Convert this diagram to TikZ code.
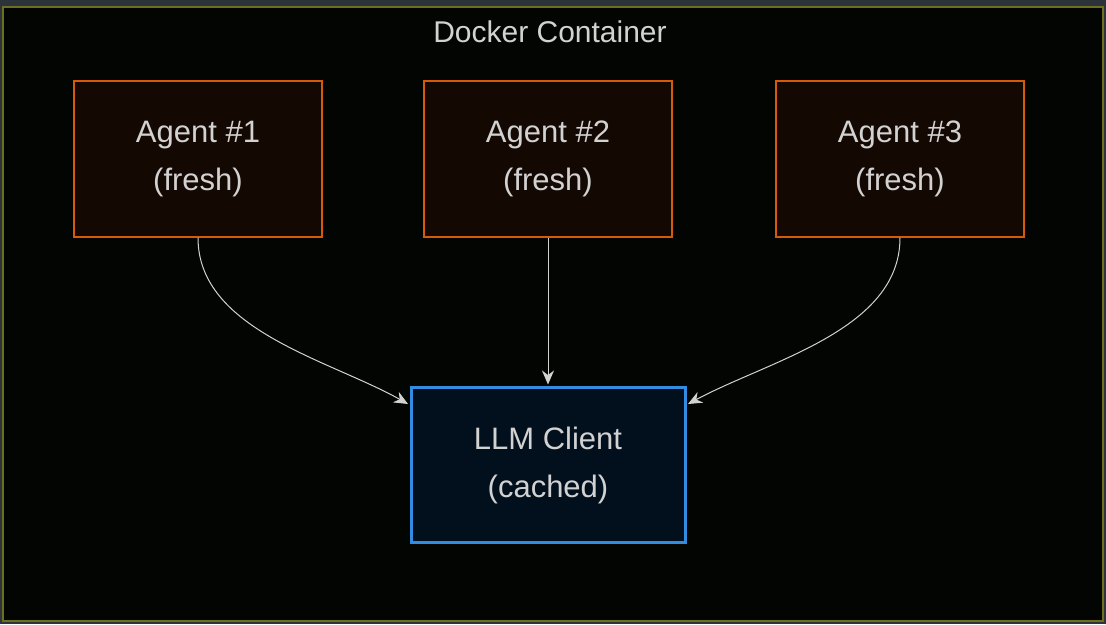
\documentclass[tikz,border=0pt]{standalone}
\usepackage{fontspec}
\setmainfont{Liberation Sans}
\usetikzlibrary{arrows.meta}
\definecolor{pagebg}{RGB}{45,51,59}
\definecolor{boxbg}{RGB}{3,5,2}
\definecolor{boxline}{RGB}{110,110,30}
\definecolor{agentbg}{RGB}{20,8,2}
\definecolor{agentline}{RGB}{215,90,10}
\definecolor{llmbg}{RGB}{2,16,30}
\definecolor{llmline}{RGB}{50,140,225}
\definecolor{txt}{RGB}{210,210,210}
\tikzset{
  agent/.style={draw=agentline, fill=agentbg, line width=1.5pt, minimum width=248pt, minimum height=156pt, align=center, text=txt, font=\fontsize{31}{48}\selectfont},
  client/.style={draw=llmline, fill=llmbg, line width=3pt, minimum width=274pt, minimum height=155pt, align=center, text=txt, font=\fontsize{31}{48}\selectfont},
  link/.style={draw=txt, line width=1pt, -{Stealth[length=14pt,width=12pt]}}
}
\begin{document}
\begin{tikzpicture}[x=1pt,y=-1pt]
    \fill [pagebg] (0,0) rectangle (1106,624);
    \draw [boxline, fill=boxbg, line width=1.5pt] (3,7) rectangle (1103,621);
    \node [text=txt, font=\fontsize{30}{36}\selectfont] (Title) at (550,32) {Docker Container};
    \node [agent] (AgentA) at (198,159) {Agent \#1\\(fresh)};
    \node [agent] (AgentB) at (548,159) {Agent \#2\\(fresh)};
    \node [agent] (AgentC) at (900,159) {Agent \#3\\(fresh)};
    \node [client] (Client) at (548,465) {LLM Client\\(cached)};
    \draw [link] (AgentA.south) .. controls (198,330) and (330,360) .. ([xshift=-1.5pt,yshift=-18pt]Client.north west);
    \draw [link] (AgentB.south) -- ([yshift=1.5pt]Client.north);
    \draw [link] (AgentC.south) .. controls (900,330) and (770,360) .. ([xshift=1.5pt,yshift=-18pt]Client.north east);
\end{tikzpicture}
\end{document}
